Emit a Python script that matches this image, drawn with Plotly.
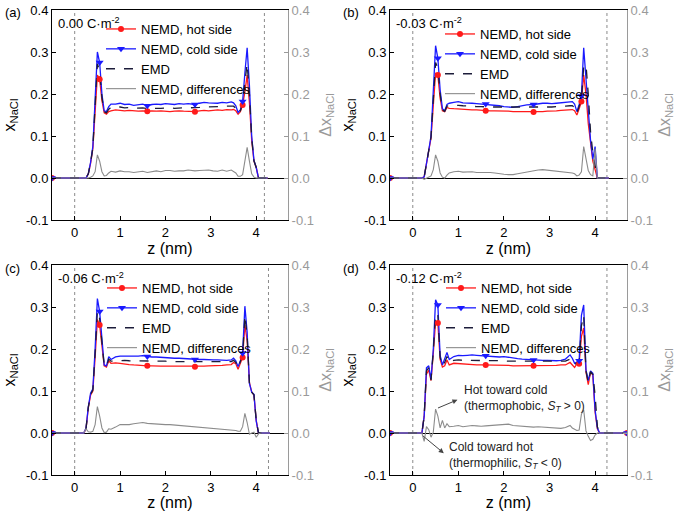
import plotly.graph_objects as go

# ---------------- data ----------------
Z = [-0.50, 0.20, 0.25, 0.30, 0.35, 0.40, 0.45, 0.50, 0.55, 0.60, 0.65, 0.70, 0.75, 0.80,
     0.90, 1.00, 1.10, 1.20, 1.30, 1.40, 1.50, 1.60, 1.70, 1.80, 1.90, 2.00, 2.10, 2.20,
     2.30, 2.40, 2.50, 2.65, 2.75, 2.85, 2.95, 3.05, 3.15, 3.25, 3.35, 3.45, 3.50, 3.55,
     3.60, 3.65, 3.70, 3.75, 3.80, 3.85, 3.90, 3.95, 4.00, 4.05, 4.10]
Z_END = {"a": 4.25, "b": 4.30, "c": 4.30, "d": 4.70}

# panel (a) 0.00 C/m2
A_HOT = [0, 0, 0, 0.010, 0.035, 0.070, 0.160, 0.245, 0.235, 0.185, 0.155, 0.152, 0.158, 0.160,
         0.162, 0.161, 0.160, 0.161, 0.160, 0.159, 0.160, 0.159, 0.160, 0.159, 0.160, 0.159, 0.158, 0.159,
         0.160, 0.159, 0.158, 0.158, 0.160, 0.161, 0.160, 0.161, 0.162, 0.161, 0.163, 0.162, 0.163, 0.160,
         0.152, 0.158, 0.174, 0.205, 0.245, 0.180, 0.090, 0.040, 0.025, 0, 0, 0]
A_COLD = [0, 0, 0, 0.010, 0.037, 0.075, 0.175, 0.300, 0.275, 0.200, 0.160, 0.158, 0.170, 0.176,
          0.176, 0.178, 0.175, 0.176, 0.173, 0.174, 0.176, 0.172, 0.175, 0.176, 0.175, 0.177, 0.176, 0.175,
          0.177, 0.176, 0.177, 0.175, 0.178, 0.180, 0.179, 0.178, 0.178, 0.180, 0.179, 0.181, 0.179, 0.172,
          0.156, 0.162, 0.182, 0.250, 0.310, 0.220, 0.100, 0.042, 0.025, 0, 0, 0]
A_EMD = [0, 0, 0, 0.010, 0.036, 0.072, 0.168, 0.272, 0.255, 0.192, 0.158, 0.155, 0.164, 0.168,
         0.169, 0.169, 0.167, 0.168, 0.166, 0.166, 0.167, 0.165, 0.166, 0.166, 0.166, 0.167, 0.167, 0.166,
         0.167, 0.167, 0.167, 0.167, 0.168, 0.169, 0.169, 0.169, 0.170, 0.170, 0.171, 0.171, 0.171, 0.166,
         0.154, 0.160, 0.178, 0.228, 0.272, 0.200, 0.095, 0.041, 0.025, 0, 0, 0]
A_DIFF = [0, 0, 0, 0.0, 0.002, 0.005, 0.015, 0.055, 0.040, 0.015, 0.005, 0.006, 0.012, 0.016,
          0.014, 0.017, 0.015, 0.015, 0.013, 0.015, 0.016, 0.013, 0.015, 0.017, 0.015, 0.018, 0.018, 0.016,
          0.017, 0.017, 0.019, 0.017, 0.018, 0.019, 0.019, 0.017, 0.016, 0.019, 0.016, 0.019, 0.016, 0.012,
          0.004, 0.004, 0.008, 0.045, 0.073, 0.040, 0.010, 0.002, 0.0, 0, 0, 0]

# panel (b) -0.03 C/m2
B_HOT = [0, 0, 0.003, 0.030, 0.065, 0.095, 0.180, 0.250, 0.245, 0.190, 0.160, 0.158, 0.168, 0.166,
         0.165, 0.164, 0.163, 0.163, 0.162, 0.162, 0.161, 0.160, 0.160, 0.160, 0.160, 0.159, 0.159, 0.158,
         0.158, 0.158, 0.158, 0.157, 0.158, 0.158, 0.159, 0.159, 0.160, 0.161, 0.162, 0.162, 0.163, 0.160,
         0.150, 0.165, 0.182, 0.245, 0.200, 0.130, 0.080, 0.040, 0.020, 0, 0, 0]
B_COLD = [0, 0, 0.003, 0.030, 0.066, 0.100, 0.200, 0.315, 0.285, 0.210, 0.165, 0.160, 0.175, 0.178,
          0.180, 0.182, 0.179, 0.179, 0.178, 0.177, 0.176, 0.176, 0.175, 0.174, 0.172, 0.170, 0.169, 0.168,
          0.170, 0.172, 0.174, 0.175, 0.177, 0.178, 0.178, 0.177, 0.178, 0.179, 0.180, 0.181, 0.182, 0.176,
          0.158, 0.175, 0.195, 0.310, 0.240, 0.150, 0.090, 0.045, 0.075, 0, 0, 0]
B_EMD = [0, 0, 0.003, 0.030, 0.065, 0.098, 0.190, 0.275, 0.262, 0.200, 0.162, 0.159, 0.171, 0.172,
         0.172, 0.173, 0.172, 0.171, 0.171, 0.170, 0.170, 0.169, 0.169, 0.169, 0.169, 0.168, 0.168, 0.168,
         0.168, 0.168, 0.168, 0.168, 0.169, 0.169, 0.169, 0.169, 0.170, 0.170, 0.171, 0.172, 0.172, 0.168,
         0.154, 0.170, 0.188, 0.265, 0.270, 0.200, 0.110, 0.060, 0.025, 0, 0, 0]
B_DIFF = [0, 0, -0.003, 0.0, 0.001, 0.005, 0.020, 0.055, 0.040, 0.012, 0.002, 0.000, 0.007, 0.012,
          0.015, 0.016, 0.014, 0.014, 0.015, 0.013, 0.013, 0.014, 0.013, 0.012, 0.010, 0.009, 0.008, 0.008,
          0.010, 0.012, 0.015, 0.018, 0.019, 0.020, 0.019, 0.018, 0.017, 0.016, 0.015, 0.013, 0.012, 0.010,
          0.005, 0.007, 0.015, 0.075, 0.045, 0.018, 0.008, 0.005, 0.070, 0, 0, 0]

# panel (c) -0.06 C/m2
C_HOT = [0, 0, 0.010, 0.060, 0.090, 0.100, 0.180, 0.270, 0.257, 0.200, 0.160, 0.157, 0.172, 0.166,
         0.167, 0.166, 0.164, 0.163, 0.162, 0.161, 0.160, 0.160, 0.160, 0.159, 0.159, 0.159, 0.159, 0.158,
         0.158, 0.158, 0.158, 0.158, 0.159, 0.159, 0.160, 0.160, 0.161, 0.161, 0.162, 0.163, 0.168, 0.165,
         0.152, 0.165, 0.180, 0.257, 0.220, 0.120, 0.098, 0.090, 0.030, 0, 0, 0]
C_COLD = [0, 0, 0.012, 0.062, 0.095, 0.105, 0.200, 0.320, 0.289, 0.215, 0.162, 0.160, 0.182, 0.175,
          0.181, 0.183, 0.183, 0.182, 0.183, 0.183, 0.184, 0.182, 0.181, 0.181, 0.180, 0.180, 0.179, 0.178,
          0.178, 0.177, 0.176, 0.175, 0.175, 0.175, 0.174, 0.174, 0.174, 0.173, 0.173, 0.174, 0.178, 0.172,
          0.158, 0.172, 0.190, 0.302, 0.240, 0.118, 0.097, 0.092, 0.028, 0, 0, 0]
C_EMD = [0, 0, 0.011, 0.061, 0.092, 0.102, 0.190, 0.290, 0.272, 0.207, 0.161, 0.158, 0.176, 0.171,
         0.172, 0.173, 0.173, 0.172, 0.172, 0.172, 0.172, 0.172, 0.171, 0.171, 0.171, 0.171, 0.170, 0.170,
         0.170, 0.169, 0.169, 0.169, 0.169, 0.169, 0.169, 0.169, 0.169, 0.169, 0.169, 0.170, 0.173, 0.168,
         0.155, 0.168, 0.185, 0.280, 0.232, 0.120, 0.097, 0.091, 0.030, 0, 0, 0]
C_DIFF = [0, 0, 0.010, 0.003, 0.002, 0.004, 0.020, 0.063, 0.040, 0.012, 0.001, 0.002, 0.010, 0.009,
          0.014, 0.020, 0.020, 0.020, 0.022, 0.023, 0.025, 0.023, 0.022, 0.022, 0.021, 0.020, 0.020, 0.019,
          0.018, 0.018, 0.017, 0.016, 0.015, 0.014, 0.013, 0.012, 0.011, 0.010, 0.009, 0.008, 0.007, 0.006,
          0.004, 0.004, 0.015, 0.047, 0.025, -0.003, 0.0, 0.002, -0.010, -0.002, 0, 0]

# panel (d) -0.12 C/m2
D_HOT = [0, 0, 0.040, 0.140, 0.150, 0.125, 0.190, 0.265, 0.262, 0.175, 0.157, 0.160, 0.174, 0.162,
         0.166, 0.165, 0.164, 0.163, 0.163, 0.162, 0.162, 0.162, 0.162, 0.161, 0.161, 0.161, 0.161, 0.160,
         0.160, 0.160, 0.160, 0.160, 0.160, 0.160, 0.161, 0.161, 0.161, 0.162, 0.162, 0.168, 0.163, 0.156,
         0.165, 0.165, 0.230, 0.250, 0.145, 0.115, 0.145, 0.138, 0.050, 0.010, 0, 0]
D_COLD = [0, 0, 0.040, 0.155, 0.160, 0.128, 0.200, 0.317, 0.305, 0.185, 0.162, 0.175, 0.192, 0.175,
          0.182, 0.185, 0.184, 0.185, 0.186, 0.185, 0.184, 0.184, 0.183, 0.182, 0.181, 0.182, 0.180, 0.178,
          0.177, 0.176, 0.175, 0.174, 0.174, 0.173, 0.173, 0.172, 0.172, 0.173, 0.176, 0.186, 0.178, 0.166,
          0.170, 0.172, 0.280, 0.305, 0.150, 0.125, 0.148, 0.142, 0.055, 0.012, 0, 0]
D_EMD = [0, 0, 0.040, 0.148, 0.155, 0.126, 0.195, 0.285, 0.280, 0.180, 0.160, 0.168, 0.182, 0.168,
         0.173, 0.174, 0.173, 0.173, 0.173, 0.172, 0.172, 0.172, 0.172, 0.172, 0.172, 0.172, 0.171, 0.171,
         0.171, 0.171, 0.171, 0.171, 0.170, 0.170, 0.170, 0.170, 0.170, 0.170, 0.171, 0.176, 0.171, 0.162,
         0.168, 0.168, 0.255, 0.280, 0.148, 0.120, 0.146, 0.140, 0.090, 0.015, 0, 0]
D_DIFF = [0, 0, -0.020, 0.015, 0.008, -0.010, 0.002, 0.057, 0.040, 0.012, 0.030, 0.012, 0.022, 0.015,
          0.016, 0.018, 0.015, 0.016, 0.018, 0.017, 0.016, 0.017, 0.018, 0.018, 0.019, 0.020, 0.021, 0.018,
          0.017, 0.016, 0.015, 0.014, 0.015, 0.014, 0.013, 0.012, 0.012, 0.011, 0.013, 0.018, 0.012, 0.008,
          0.006, 0.007, 0.045, 0.055, 0.005, -0.008, -0.018, -0.015, -0.005, 0.0, 0, 0]

PANELS = ["a", "b", "c", "d"]
LETTERS = ["(a)", "(b)", "(c)", "(d)"]
CHARGE = ["0.00 C·m<sup>-2</sup>", "-0.03 C·m<sup>-2</sup>",
          "-0.06 C·m<sup>-2</sup>", "-0.12 C·m<sup>-2</sup>"]
HOT = [A_HOT, B_HOT, C_HOT, D_HOT]
COLD = [A_COLD, B_COLD, C_COLD, D_COLD]
EMD = [A_EMD, B_EMD, C_EMD, D_EMD]
DIFF = [A_DIFF, B_DIFF, C_DIFF, D_DIFF]
MARK_Z = [[-0.50, 0.55, 1.60, 2.65, 3.70],
          [-0.50, 0.55, 1.60, 2.65, 3.70],
          [-0.50, 0.55, 1.60, 2.65, 3.70],
          [-0.50, 0.55, 1.60, 2.65, 3.65, 4.70]]
WALL_Z = [4.18, 4.26, 4.27, 4.26]   # dotted wall positions (plus z = 0)

X_TICKS = [0, 1, 2, 3, 4]
Y_TICKS = [-0.1, 0.0, 0.1, 0.2, 0.3, 0.4]
Y_TICKTEXT = ["-0.1", "0.0", "0.1", "0.2", "0.3", "0.4"]

# ---------------- layout geometry ----------------
W, H = 679, 511
XDOM = [[52 / W, 288 / W], [390 / W, 627 / W], [52 / W, 288 / W], [390 / W, 627 / W]]
YDOM = [[1 - 220 / H, 1 - 10 / H], [1 - 220 / H, 1 - 10 / H],
        [1 - 475 / H, 1 - 265 / H], [1 - 475 / H, 1 - 265 / H]]
LEG_POS = [(101 / W, 1 - 14 / H), (440 / W, 1 - 19 / H), (102 / W, 1 - 273 / H), (441 / W, 1 - 273 / H)]
LETTER_POS = [(3 / W, 1 - 13 / H), (341 / W, 1 - 13 / H), (3 / W, 1 - 268 / H), (341 / W, 1 - 268 / H)]

FONT = "Liberation Sans, Arial, sans-serif"
RED = "#ff1a1a"
BLUE = "#1a1aff"
NAVY = "#1c1c3a"
GRAY = "#8c8c8c"
RGRAY = "#9a9a9a"

fig = go.Figure()
layout = dict(width=W, height=H, margin=dict(l=0, r=0, t=0, b=0),
              paper_bgcolor="white", plot_bgcolor="white",
              font=dict(family=FONT, size=13, color="black"),
              shapes=[], annotations=[])

for i, p in enumerate(PANELS):
    xa = "x" if i == 0 else f"x{i + 1}"
    ya = "y" if i == 0 else f"y{2 * i + 1}"
    yb = f"y{2 * i + 2}"
    leg = "legend" if i == 0 else f"legend{i + 1}"
    z = Z + [Z_END[p]]
    hot = HOT[i] + [0]
    cold = COLD[i] + [0]
    emd = EMD[i] + [0]
    diff = DIFF[i] + [0]

    # marker subsets (isolated points separated by None so no line is drawn)
    def subset(vals):
        xs, ys = [], []
        for mz in MARK_Z[i]:
            k = min(range(len(z)), key=lambda j: abs(z[j] - mz))
            xs += [z[k], None]
            ys += [vals[k], None]
        return xs, ys

    fig.add_trace(go.Scatter(x=z, y=diff, mode="lines", xaxis=xa, yaxis=yb,
                             line=dict(color=GRAY, width=1.1), name="NEMD, differences",
                             legend=leg, legendrank=4))
    fig.add_trace(go.Scatter(x=z, y=hot, mode="lines", xaxis=xa, yaxis=ya,
                             line=dict(color=RED, width=1.3), showlegend=False))
    fig.add_trace(go.Scatter(x=z, y=cold, mode="lines", xaxis=xa, yaxis=ya,
                             line=dict(color=BLUE, width=1.3), showlegend=False))
    fig.add_trace(go.Scatter(x=z, y=emd, mode="lines", xaxis=xa, yaxis=ya,
                             line=dict(color=NAVY, width=1.3, dash="dash"),
                             name="EMD", legend=leg, legendrank=3))
    hx, hy = subset(hot)
    fig.add_trace(go.Scatter(x=hx, y=hy, mode="lines+markers", xaxis=xa, yaxis=ya,
                             connectgaps=False, line=dict(color=RED, width=1.3),
                             marker=dict(symbol="circle", size=6, color=RED),
                             name="NEMD, hot side", legend=leg, legendrank=1))
    cx, cy = subset(cold)
    fig.add_trace(go.Scatter(x=cx, y=cy, mode="lines+markers", xaxis=xa, yaxis=ya,
                             connectgaps=False, line=dict(color=BLUE, width=1.3),
                             marker=dict(symbol="triangle-down", size=7, color=BLUE),
                             name="NEMD, cold side", legend=leg, legendrank=2))

    xkey = "xaxis" if i == 0 else f"xaxis{i + 1}"
    ykey = "yaxis" if i == 0 else f"yaxis{2 * i + 1}"
    ykey2 = f"yaxis{2 * i + 2}"
    layout[xkey] = dict(domain=XDOM[i], anchor=ya, range=[-0.5, 4.7],
                        tickvals=X_TICKS, ticks="inside", ticklen=4, tickcolor="black",
                        showline=True, linecolor="black", linewidth=1, mirror=True,
                        showgrid=False, zeroline=False, automargin=False,
                        tickfont=dict(size=13),
                        title=dict(text="z (nm)", font=dict(size=16), standoff=2))
    layout[ykey] = dict(domain=YDOM[i], anchor=xa, range=[-0.1, 0.4],
                        tickvals=Y_TICKS, ticktext=Y_TICKTEXT, ticks="inside", ticklen=4,
                        tickcolor="black", showline=True, linecolor="black", linewidth=1,
                        showgrid=False, zeroline=True, zerolinecolor="black", zerolinewidth=1,
                        automargin=False, tickfont=dict(size=13),
                        title=dict(text="x<sub>NaCl</sub>", font=dict(size=16), standoff=6))
    layout[ykey2] = dict(overlaying=ya, anchor=xa, side="right", range=[-0.1, 0.4],
                         tickvals=Y_TICKS, ticktext=Y_TICKTEXT, ticks="inside", ticklen=4,
                         tickcolor=RGRAY, showline=True, linecolor=RGRAY, linewidth=1,
                         showgrid=False, zeroline=False, automargin=False,
                         tickfont=dict(size=13, color=RGRAY),
                         title=dict(text="Δx<sub>NaCl</sub>", font=dict(size=16, color=RGRAY),
                                    standoff=6))
    layout[leg] = dict(x=LEG_POS[i][0], y=LEG_POS[i][1], xanchor="left", yanchor="top",
                       bgcolor="rgba(0,0,0,0)", borderwidth=0, font=dict(size=13),
                       tracegroupgap=0, itemwidth=30)

    for wz in [0.0, WALL_Z[i]]:
        layout["shapes"].append(dict(type="line", xref=xa, yref=f"{ya} domain",
                                     x0=wz, x1=wz, y0=0, y1=1, layer="below",
                                     line=dict(color="#8a8a8a", width=1, dash="dot")))
    layout["annotations"].append(dict(text=CHARGE[i], xref=f"{xa} domain", yref=f"{ya} domain",
                                      x=0.015, y=0.985, xanchor="left", yanchor="top",
                                      showarrow=False, font=dict(size=13)))
    layout["annotations"].append(dict(text=LETTERS[i], xref="paper", yref="paper",
                                      x=LETTER_POS[i][0], y=LETTER_POS[i][1],
                                      xanchor="left", yanchor="middle",
                                      showarrow=False, font=dict(size=13)))

# annotations with arrows in panel (d)
ANN_FONT = dict(size=12, color="#222222")
layout["annotations"] += [
    dict(text="Hot toward cold<br>(thermophobic, <i>S</i><sub><i>T</i></sub> > 0)",
         xref="x4", yref="y7", x=1.07, y=0.083, xanchor="left", yanchor="middle",
         align="left", showarrow=False, font=ANN_FONT),
    dict(text="", xref="x4", yref="y7", axref="x4", ayref="y7",
         x=0.98, y=0.079, ax=0.52, ay=0.058, showarrow=True,
         arrowhead=2, arrowsize=1, arrowwidth=1, arrowcolor="#444444"),
    dict(text="Cold toward hot<br>(thermophilic, <i>S</i><sub><i>T</i></sub> < 0)",
         xref="x4", yref="y7", x=0.74, y=-0.054, xanchor="left", yanchor="middle",
         align="left", showarrow=False, font=ANN_FONT),
    dict(text="", xref="x4", yref="y7", axref="x4", ayref="y7",
         x=0.68, y=-0.048, ax=0.19, ay=-0.004, showarrow=True,
         arrowhead=2, arrowsize=1, arrowwidth=1, arrowcolor="#444444"),
]

fig.update_layout(**layout)
fig.write_html("out.html")
